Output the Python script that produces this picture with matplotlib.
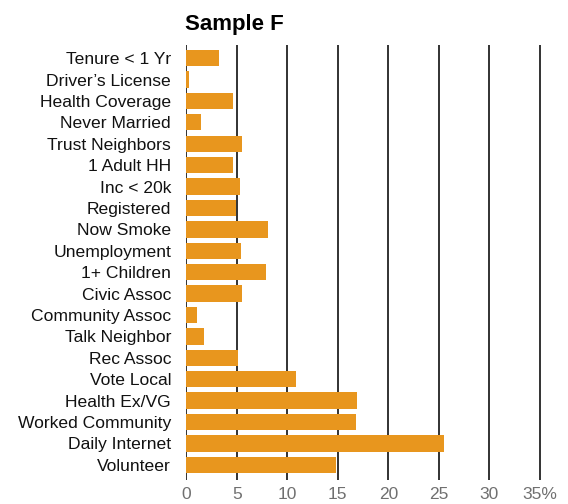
import matplotlib
matplotlib.use("Agg")
import matplotlib.pyplot as plt
import numpy as np

labels = ["Tenure < 1 Yr", "Driver\u2019s License", "Health Coverage", "Never Married",
          "Trust Neighbors", "1 Adult HH", "Inc < 20k", "Registered", "Now Smoke",
          "Unemployment", "1+ Children", "Civic Assoc", "Community Assoc",
          "Talk Neighbor", "Rec Assoc", "Vote Local", "Health Ex/VG",
          "Worked Community", "Daily Internet", "Volunteer"]
values = [3.2, 0.25, 4.6, 1.45, 5.5, 4.6, 5.3, 4.9, 8.05, 5.4,
          7.9, 5.5, 1.05, 1.8, 5.1, 10.9, 16.9, 16.8, 25.5, 14.8]
xticks = [0, 5, 10, 15, 20, 25, 30, 35]
xticklabels = ["0", "5", "10", "15", "20", "25", "30", "35%"]

plt.rcParams['font.family'] = ['Liberation Sans', 'DejaVu Sans']

fig = plt.figure(figsize=(5.68, 5.04), dpi=100)
ax = fig.add_axes([0.328, 0.048, 0.649, 0.863])

y = np.arange(len(labels))
ax.barh(y, values, height=0.76, color="#E8961E", zorder=3)

for t in xticks:
    ax.axvline(t, color="#222222", lw=1.3, zorder=1)

ax.set_xlim(0, 36.5)
ax.set_ylim(len(labels) - 0.3, -0.62)
ax.set_yticks(y)
ax.set_yticklabels(labels, fontsize=12.6, color="#111111")
ax.set_xticks(xticks)
ax.set_xticklabels(xticklabels, fontsize=12.5, color="#707070")
ax.tick_params(length=0, axis="y", pad=11)
ax.tick_params(length=0, axis="x", pad=5)
for s in ax.spines.values():
    s.set_visible(False)

ax.set_title("Sample F", loc="left", fontsize=16, fontweight="bold", pad=11, x=-0.003)

fig.savefig("out.png", dpi=100)
